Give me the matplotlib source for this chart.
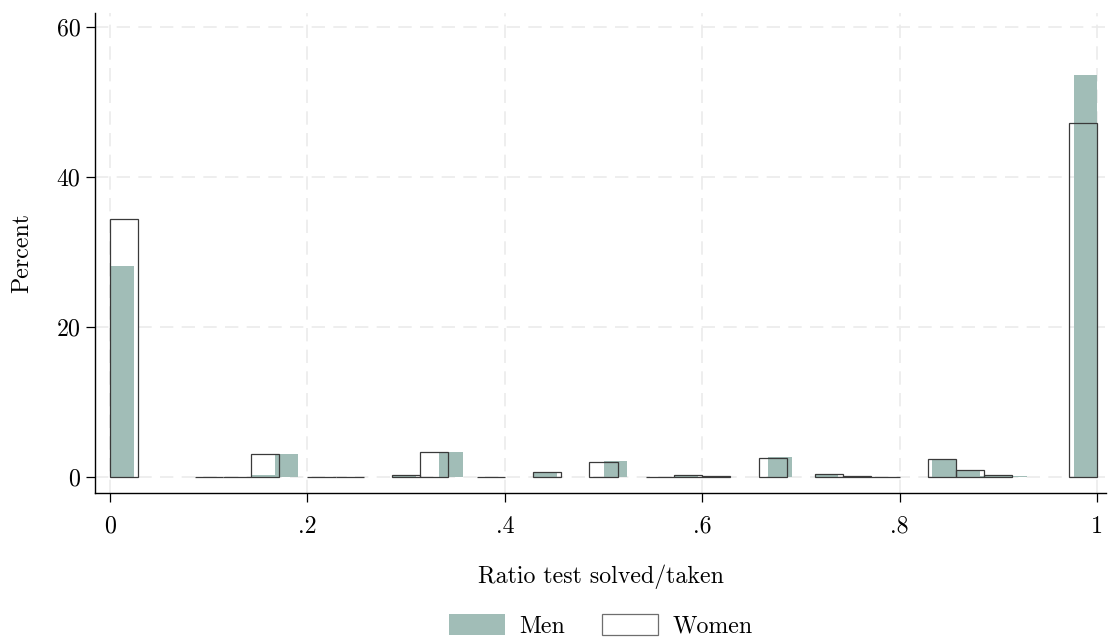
import numpy as np
import matplotlib
matplotlib.use("Agg")
import matplotlib.pyplot as plt
from matplotlib.patches import Patch

# ---- data (percent per bin) ----
men_bins = 42
women_bins = 35
men_pct = [28.2, 0, 0, 0, 0, 0, 0.25, 3.1, 0, 0,
           0.1, 0, 0.2, 0, 3.4, 0.1, 0, 0, 0.6, 0,
           0, 2.2, 0, 0, 0.3, 0, 0.1, 0, 2.7, 0,
           0.4, 0, 0.1, 0, 0, 2.4, 0.85, 0.2, 0.15, 0,
           0, 53.7]
women_pct = [34.4, 0, 0, 0.1, 0.1, 3.1, 0, 0.1, 0.1, 0,
             0.27, 3.33, 0, 0.1, 0, 0.75, 0, 2.1, 0, 0.1,
             0.35, 0.15, 0, 2.53, 0, 0.5, 0.2, 0.1, 0, 2.5,
             0.97, 0.25, 0, 0, 47.2]
xticks = [0, 0.2, 0.4, 0.6, 0.8, 1.0]
xticklabels = ["0", ".2", ".4", ".6", ".8", "1"]
yticks = [0, 20, 40, 60]
yticklabels = ["0", "20", "40", "60"]

plt.rcParams['font.family'] = 'cmr10'
plt.rcParams['axes.unicode_minus'] = False
plt.rcParams['mathtext.fontset'] = 'cm'

MEN_COLOR = '#a1bdb7'
EDGE = '#3a3a3a'
GRID = '#ebebeb'
FS = 17.2

fig = plt.figure(figsize=(11.08, 6.41), dpi=100)
ax = fig.add_axes([95/1108, 1-492.7/641, (1106-95)/1108, (492.7-12.7)/641])

def draw(nbins, pct, **kw):
    edges = np.linspace(0, 1, nbins + 1)
    pct = np.asarray(pct, dtype=float)
    m = pct > 0
    return ax.bar(edges[:-1][m], pct[m], width=np.diff(edges)[m], align='edge', **kw)

men = draw(men_bins, men_pct, color=MEN_COLOR, linewidth=0, zorder=2, label='Men')
women = draw(women_bins, women_pct, facecolor='none', edgecolor=EDGE, linewidth=0.9,
             zorder=3, label='Women')

ax.set_xlim(-15/987, (1106-110)/987)
ax.set_ylim((477.3-492.7)/7.5, (477.3-12.7)/7.5)

ax.set_xticks(xticks)
ax.set_xticklabels(xticklabels)
ax.set_yticks(yticks)
ax.set_yticklabels(yticklabels)
ax.tick_params(axis='both', direction='out', length=6.5, width=0.9, color='black',
               labelsize=FS, labelcolor='black')
ax.tick_params(axis='x', pad=10)
ax.tick_params(axis='y', pad=4)

ax.grid(True, color=GRID, linestyle=(0, (8, 5)), linewidth=1.2, zorder=0)
ax.set_axisbelow(True)

for s in ['top', 'right']:
    ax.spines[s].set_visible(False)
for s in ['left', 'bottom']:
    ax.spines[s].set_linewidth(1.0)
    ax.spines[s].set_color('black')

ax.set_xlabel('Ratio test solved/taken', fontsize=FS, va='center')
ax.xaxis.set_label_coords(0.5, (492.7-576.7)/480)
ax.set_ylabel('Percent', fontsize=FS, va='center', ha='center')
ax.yaxis.set_label_coords((22.5-95)/1011, 0.5)

h_men = Patch(facecolor=MEN_COLOR, edgecolor='none', label='Men')
h_women = Patch(facecolor='white', edgecolor='#6e6e6e', linewidth=0.9, label='Women')
leg = ax.legend(handles=[h_men, h_women], loc='center', bbox_to_anchor=(0.5, (492.7-626)/480),
                ncol=2, frameon=False, fontsize=FS, handlelength=2.35, handleheight=1.0,
                handletextpad=0.6, columnspacing=1.55, borderaxespad=0)

fig.savefig('out.png', dpi=100)
